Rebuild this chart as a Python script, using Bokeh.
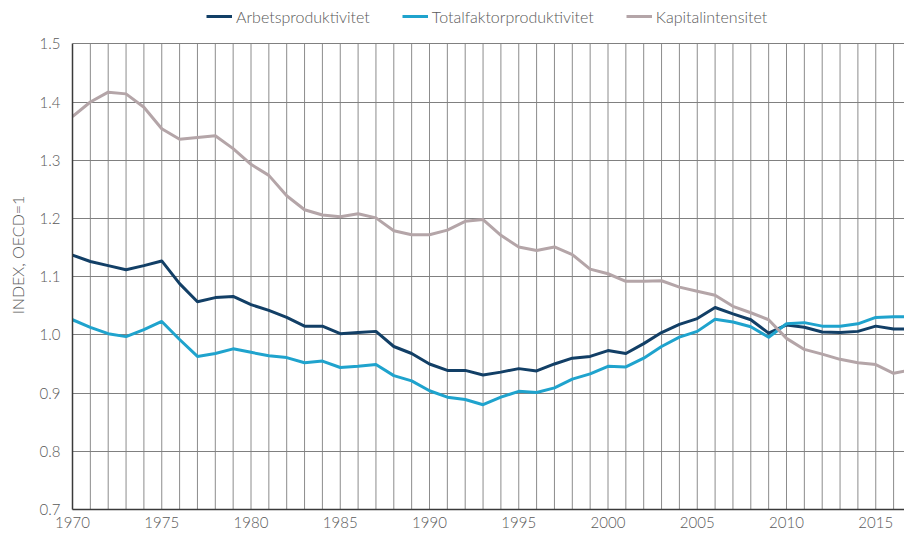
from bokeh.plotting import figure
from bokeh.models import (Range1d, FixedTicker, SingleIntervalTicker, Legend, LegendItem,
                          NumeralTickFormatter)
from bokeh.embed import file_html
from bokeh.resources import INLINE

years = list(range(1970, 2018))
arbets = [1.137, 1.126, 1.119, 1.112, 1.119, 1.127, 1.088, 1.057, 1.064, 1.066,
          1.052, 1.042, 1.030, 1.015, 1.015, 1.002, 1.004, 1.006, 0.980, 0.968,
          0.950, 0.939, 0.939, 0.931, 0.936, 0.942, 0.938, 0.950, 0.960, 0.963,
          0.973, 0.968, 0.985, 1.004, 1.018, 1.028, 1.047, 1.036, 1.026, 1.003,
          1.017, 1.013, 1.005, 1.004, 1.006, 1.015, 1.010, 1.010]
total = [1.026, 1.013, 1.002, 0.997, 1.009, 1.023, 0.992, 0.963, 0.968, 0.976,
         0.970, 0.964, 0.961, 0.952, 0.955, 0.944, 0.946, 0.949, 0.930, 0.921,
         0.904, 0.893, 0.889, 0.880, 0.893, 0.903, 0.901, 0.909, 0.924, 0.933,
         0.946, 0.945, 0.960, 0.980, 0.996, 1.006, 1.027, 1.022, 1.014, 0.996,
         1.019, 1.021, 1.015, 1.015, 1.019, 1.030, 1.031, 1.031]
kapital = [1.375, 1.400, 1.417, 1.414, 1.391, 1.354, 1.336, 1.339, 1.342, 1.320,
           1.293, 1.274, 1.239, 1.215, 1.206, 1.203, 1.208, 1.201, 1.179, 1.172,
           1.172, 1.180, 1.195, 1.198, 1.171, 1.151, 1.145, 1.151, 1.138, 1.113,
           1.105, 1.092, 1.092, 1.093, 1.082, 1.075, 1.068, 1.049, 1.038, 1.026,
           0.994, 0.975, 0.967, 0.958, 0.952, 0.949, 0.934, 0.940]
series_names = ["Arbetsproduktivitet", "Totalfaktorproduktivitet", "Kapitalintensitet"]
colors = ["#123f66", "#1fa3cd", "#b4a5a8"]
y_ticks = [0.7, 0.8, 0.9, 1.0, 1.1, 1.2, 1.3, 1.4, 1.5]

FONT = "Lato Light"
TXT = "#595959"

FRAME_W, FRAME_H = 832, 509
PX_PER_YEAR = 17.85
PX_PER_UNIT = 582.1  # pixels per 1.0 index unit
y_top = y_ticks[0] + FRAME_H / PX_PER_UNIT  # extra room above 1.5 for the legend

p = figure(width=904, height=537, output_backend="svg", toolbar_location=None,
           x_range=Range1d(years[0], years[0] + FRAME_W / PX_PER_YEAR),
           y_range=Range1d(y_ticks[0], y_top),
           min_border_left=72, min_border_right=0, min_border_top=0, min_border_bottom=28)
p.outline_line_color = None
p.background_fill_color = "white"
p.border_fill_color = "white"

# vertical grid lines, one per year, only between 0.7 and 1.5
p.segment(x0=years, y0=y_ticks[0], x1=years, y1=y_ticks[-1],
          line_color="#8c8c8c", line_width=1, level="underlay")
p.xgrid.visible = False
p.ygrid.ticker = FixedTicker(ticks=y_ticks)
p.ygrid.grid_line_color = "#808080"
p.ygrid.grid_line_width = 1
p.ygrid.level = "underlay"

renderers = []
for ys, c in zip([arbets, total, kapital], colors):
    r = p.line(years, ys, line_color=c, line_width=3, line_join="round")
    renderers.append(r)

# axes
p.xaxis.ticker = SingleIntervalTicker(interval=5)
p.yaxis.ticker = FixedTicker(ticks=y_ticks)
p.yaxis.bounds = (y_ticks[0], y_ticks[-1])
p.yaxis.formatter = NumeralTickFormatter(format="0.0")
for ax in (p.xaxis[0], p.yaxis[0]):
    ax.axis_line_color = "#3a3a3a"
    ax.axis_line_width = 1.5
    ax.major_tick_line_color = None
    ax.minor_tick_line_color = None
    ax.major_tick_out = 0
    ax.major_tick_in = 0
    ax.major_label_text_font = FONT
    ax.major_label_text_font_size = "15px"
    ax.major_label_text_color = TXT
p.xaxis.major_label_standoff = 3
p.yaxis.major_label_standoff = 12
p.yaxis.axis_label = "INDEX, OECD=1"
p.yaxis.axis_label_text_font = FONT
p.yaxis.axis_label_text_font_size = "16px"
p.yaxis.axis_label_text_font_style = "normal"
p.yaxis.axis_label_text_color = TXT
p.yaxis.axis_label_standoff = 10

legend = Legend(items=[LegendItem(label=n, renderers=[r]) for n, r in zip(series_names, renderers)],
                orientation="horizontal", location=(134, 483),
                border_line_color=None, background_fill_alpha=0,
                padding=0, margin=0, spacing=32, label_standoff=4,
                glyph_width=26, glyph_height=18, label_height=20,
                label_text_font=FONT, label_text_font_size="16px", label_text_color=TXT)
p.add_layout(legend, "center")

open("out.html", "w").write(file_html(p, INLINE))
